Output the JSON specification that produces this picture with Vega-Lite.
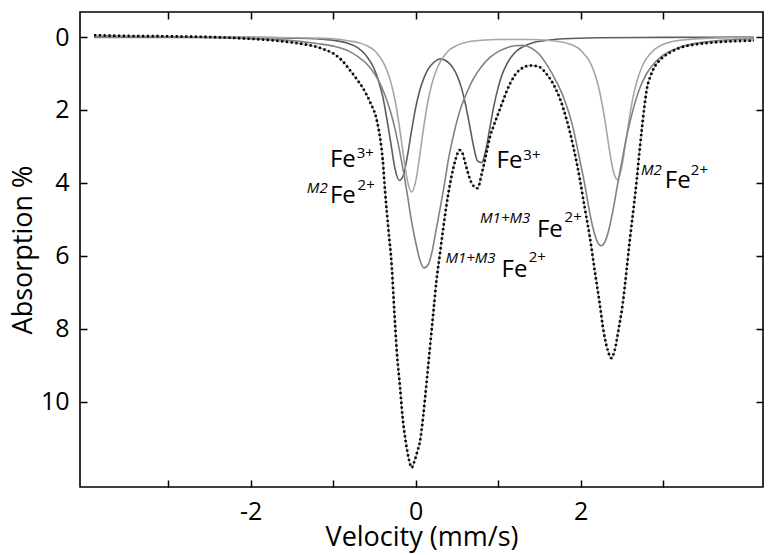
{
"$schema":"https://vega.github.io/schema/vega-lite/v6.json",
"width":683,"height":475,
"autosize":{"type":"none"},
"padding":{"left":80,"top":12,"right":5,"bottom":68},
"config":{"view":{"stroke":"black","strokeWidth":1.6},"font":"Open Sans",
"axis":{"domain":false,"tickColor":"black","tickWidth":1.5,"tickSize":7,"offset":-7,"labelColor":"black","titleColor":"black","grid":false,"labelFont":"Open Sans","titleFont":"Open Sans","labelFontSize":25,"titleFontSize":27,"titleFontWeight":"normal","labelFlush":false}},
"datasets":{
"spec":[{"v":-3.9,"d":-0.05},{"v":-3.5,"d":-0.03},{"v":-3.0,"d":-0.02},{"v":-2.5,"d":0.0},{"v":-2.0,"d":0.05},{"v":-1.7,"d":0.1},{"v":-1.5,"d":0.15},{"v":-1.3,"d":0.22},{"v":-1.2,"d":0.27},{"v":-1.1,"d":0.35},{"v":-1.0,"d":0.45},{"v":-0.9,"d":0.63},{"v":-0.8,"d":0.9},{"v":-0.7,"d":1.2},{"v":-0.64,"d":1.4},{"v":-0.55,"d":1.8},{"v":-0.47,"d":2.3},{"v":-0.43,"d":2.8},{"v":-0.4,"d":3.37},{"v":-0.37,"d":4.27},{"v":-0.33,"d":5.3},{"v":-0.29,"d":6.3},{"v":-0.26,"d":7.5},{"v":-0.23,"d":8.6},{"v":-0.19,"d":9.6},{"v":-0.16,"d":10.4},{"v":-0.12,"d":11.1},{"v":-0.08,"d":11.6},{"v":-0.05,"d":11.8},{"v":-0.02,"d":11.65},{"v":0.02,"d":11.35},{"v":0.05,"d":11.1},{"v":0.09,"d":10.4},{"v":0.13,"d":9.5},{"v":0.16,"d":8.8},{"v":0.19,"d":8.1},{"v":0.22,"d":7.4},{"v":0.25,"d":6.7},{"v":0.29,"d":6.0},{"v":0.33,"d":5.3},{"v":0.37,"d":4.65},{"v":0.41,"d":4.1},{"v":0.45,"d":3.65},{"v":0.49,"d":3.3},{"v":0.53,"d":3.1},{"v":0.56,"d":3.15},{"v":0.6,"d":3.45},{"v":0.65,"d":3.85},{"v":0.7,"d":4.08},{"v":0.75,"d":4.14},{"v":0.8,"d":3.75},{"v":0.85,"d":3.25},{"v":0.9,"d":2.74},{"v":0.95,"d":2.4},{"v":1.0,"d":2.1},{"v":1.05,"d":1.8},{"v":1.1,"d":1.5},{"v":1.15,"d":1.25},{"v":1.2,"d":1.05},{"v":1.25,"d":0.92},{"v":1.3,"d":0.84},{"v":1.4,"d":0.78},{"v":1.5,"d":0.82},{"v":1.58,"d":1.0},{"v":1.66,"d":1.26},{"v":1.75,"d":1.7},{"v":1.83,"d":2.27},{"v":1.91,"d":3.0},{"v":1.99,"d":3.9},{"v":2.05,"d":4.7},{"v":2.11,"d":5.47},{"v":2.17,"d":6.4},{"v":2.23,"d":7.3},{"v":2.28,"d":8.1},{"v":2.33,"d":8.6},{"v":2.37,"d":8.8},{"v":2.41,"d":8.6},{"v":2.46,"d":8.0},{"v":2.51,"d":7.3},{"v":2.56,"d":6.3},{"v":2.6,"d":5.47},{"v":2.64,"d":4.7},{"v":2.68,"d":3.9},{"v":2.71,"d":3.2},{"v":2.74,"d":2.55},{"v":2.77,"d":1.95},{"v":2.8,"d":1.45},{"v":2.85,"d":1.05},{"v":2.9,"d":0.8},{"v":2.96,"d":0.63},{"v":3.05,"d":0.47},{"v":3.2,"d":0.3},{"v":3.4,"d":0.2},{"v":3.6,"d":0.15},{"v":3.8,"d":0.12},{"v":4.1,"d":0.1}],
"comps":[
{"c":"Fe3","v":-3.9,"d":0},{"c":"Fe3","v":-2,"d":0.01},{"c":"Fe3","v":-1.5,"d":0.03},{"c":"Fe3","v":-1.2,"d":0.05},{"c":"Fe3","v":-1.0,"d":0.09},{"c":"Fe3","v":-0.8,"d":0.19},{"c":"Fe3","v":-0.7,"d":0.3},{"c":"Fe3","v":-0.6,"d":0.51},{"c":"Fe3","v":-0.5,"d":0.89},{"c":"Fe3","v":-0.45,"d":1.21},{"c":"Fe3","v":-0.4,"d":1.63},{"c":"Fe3","v":-0.35,"d":2.24},{"c":"Fe3","v":-0.3,"d":2.93},{"c":"Fe3","v":-0.25,"d":3.62},{"c":"Fe3","v":-0.2,"d":3.93},{"c":"Fe3","v":-0.15,"d":3.79},{"c":"Fe3","v":-0.1,"d":3.25},{"c":"Fe3","v":-0.05,"d":2.56},{"c":"Fe3","v":0,"d":1.93},{"c":"Fe3","v":0.05,"d":1.45},{"c":"Fe3","v":0.1,"d":1.12},{"c":"Fe3","v":0.15,"d":0.88},{"c":"Fe3","v":0.2,"d":0.74},{"c":"Fe3","v":0.25,"d":0.64},{"c":"Fe3","v":0.3,"d":0.6},{"c":"Fe3","v":0.35,"d":0.63},{"c":"Fe3","v":0.4,"d":0.71},{"c":"Fe3","v":0.45,"d":0.84},{"c":"Fe3","v":0.5,"d":1.05},{"c":"Fe3","v":0.55,"d":1.36},{"c":"Fe3","v":0.6,"d":1.81},{"c":"Fe3","v":0.65,"d":2.38},{"c":"Fe3","v":0.7,"d":2.98},{"c":"Fe3","v":0.75,"d":3.4},{"c":"Fe3","v":0.8,"d":3.44},{"c":"Fe3","v":0.85,"d":3.09},{"c":"Fe3","v":0.9,"d":2.47},{"c":"Fe3","v":0.95,"d":1.86},{"c":"Fe3","v":1.0,"d":1.38},{"c":"Fe3","v":1.05,"d":1.01},{"c":"Fe3","v":1.1,"d":0.76},{"c":"Fe3","v":1.2,"d":0.43},{"c":"Fe3","v":1.3,"d":0.27},{"c":"Fe3","v":1.4,"d":0.17},{"c":"Fe3","v":1.6,"d":0.09},{"c":"Fe3","v":1.8,"d":0.05},{"c":"Fe3","v":2.2,"d":0.02},{"c":"Fe3","v":3,"d":0.01},{"c":"Fe3","v":4.1,"d":0},
{"c":"M2","v":-3.9,"d":0},{"c":"M2","v":-2,"d":0.01},{"c":"M2","v":-1.5,"d":0.02},{"c":"M2","v":-1.2,"d":0.03},{"c":"M2","v":-1.0,"d":0.05},{"c":"M2","v":-0.8,"d":0.11},{"c":"M2","v":-0.7,"d":0.15},{"c":"M2","v":-0.6,"d":0.23},{"c":"M2","v":-0.5,"d":0.37},{"c":"M2","v":-0.45,"d":0.5},{"c":"M2","v":-0.4,"d":0.67},{"c":"M2","v":-0.35,"d":0.91},{"c":"M2","v":-0.3,"d":1.25},{"c":"M2","v":-0.25,"d":1.74},{"c":"M2","v":-0.2,"d":2.42},{"c":"M2","v":-0.15,"d":3.23},{"c":"M2","v":-0.1,"d":3.95},{"c":"M2","v":-0.05,"d":4.25},{"c":"M2","v":0,"d":3.95},{"c":"M2","v":0.05,"d":3.23},{"c":"M2","v":0.1,"d":2.42},{"c":"M2","v":0.15,"d":1.74},{"c":"M2","v":0.2,"d":1.25},{"c":"M2","v":0.25,"d":0.91},{"c":"M2","v":0.3,"d":0.67},{"c":"M2","v":0.35,"d":0.5},{"c":"M2","v":0.4,"d":0.37},{"c":"M2","v":0.5,"d":0.23},{"c":"M2","v":0.6,"d":0.15},{"c":"M2","v":0.8,"d":0.09},{"c":"M2","v":1.0,"d":0.07},{"c":"M2","v":1.2,"d":0.07},{"c":"M2","v":1.4,"d":0.07},{"c":"M2","v":1.6,"d":0.09},{"c":"M2","v":1.8,"d":0.15},{"c":"M2","v":1.9,"d":0.22},{"c":"M2","v":2.0,"d":0.36},{"c":"M2","v":2.05,"d":0.49},{"c":"M2","v":2.1,"d":0.64},{"c":"M2","v":2.15,"d":0.88},{"c":"M2","v":2.2,"d":1.22},{"c":"M2","v":2.25,"d":1.72},{"c":"M2","v":2.3,"d":2.37},{"c":"M2","v":2.35,"d":3.13},{"c":"M2","v":2.4,"d":3.72},{"c":"M2","v":2.45,"d":3.91},{"c":"M2","v":2.5,"d":3.53},{"c":"M2","v":2.55,"d":2.82},{"c":"M2","v":2.6,"d":2.08},{"c":"M2","v":2.65,"d":1.49},{"c":"M2","v":2.7,"d":1.08},{"c":"M2","v":2.75,"d":0.78},{"c":"M2","v":2.8,"d":0.58},{"c":"M2","v":2.9,"d":0.33},{"c":"M2","v":3.0,"d":0.2},{"c":"M2","v":3.2,"d":0.09},{"c":"M2","v":3.5,"d":0.04},{"c":"M2","v":4.1,"d":0.01},
{"c":"M13","v":-3.9,"d":0.01},{"c":"M13","v":-3,"d":0.01},{"c":"M13","v":-2.5,"d":0.02},{"c":"M13","v":-2,"d":0.045},{"c":"M13","v":-1.5,"d":0.1},{"c":"M13","v":-1.2,"d":0.18},{"c":"M13","v":-1.0,"d":0.25},{"c":"M13","v":-0.8,"d":0.4},{"c":"M13","v":-0.7,"d":0.54},{"c":"M13","v":-0.6,"d":0.72},{"c":"M13","v":-0.5,"d":1.01},{"c":"M13","v":-0.45,"d":1.2},{"c":"M13","v":-0.4,"d":1.44},{"c":"M13","v":-0.35,"d":1.74},{"c":"M13","v":-0.3,"d":2.09},{"c":"M13","v":-0.25,"d":2.53},{"c":"M13","v":-0.2,"d":3.07},{"c":"M13","v":-0.15,"d":3.67},{"c":"M13","v":-0.1,"d":4.34},{"c":"M13","v":-0.05,"d":5.06},{"c":"M13","v":0,"d":5.63},{"c":"M13","v":0.05,"d":6.11},{"c":"M13","v":0.1,"d":6.33},{"c":"M13","v":0.15,"d":6.24},{"c":"M13","v":0.2,"d":5.86},{"c":"M13","v":0.25,"d":5.25},{"c":"M13","v":0.3,"d":4.65},{"c":"M13","v":0.35,"d":4.0},{"c":"M13","v":0.4,"d":3.31},{"c":"M13","v":0.45,"d":2.77},{"c":"M13","v":0.5,"d":2.3},{"c":"M13","v":0.55,"d":1.92},{"c":"M13","v":0.6,"d":1.63},{"c":"M13","v":0.7,"d":1.14},{"c":"M13","v":0.8,"d":0.8},{"c":"M13","v":0.9,"d":0.56},{"c":"M13","v":1.0,"d":0.4},{"c":"M13","v":1.1,"d":0.3},{"c":"M13","v":1.2,"d":0.24},{"c":"M13","v":1.3,"d":0.23},{"c":"M13","v":1.4,"d":0.3},{"c":"M13","v":1.5,"d":0.48},{"c":"M13","v":1.6,"d":0.8},{"c":"M13","v":1.7,"d":1.2},{"c":"M13","v":1.8,"d":1.7},{"c":"M13","v":1.9,"d":2.42},{"c":"M13","v":2.0,"d":3.49},{"c":"M13","v":2.05,"d":4.05},{"c":"M13","v":2.1,"d":4.7},{"c":"M13","v":2.15,"d":5.24},{"c":"M13","v":2.2,"d":5.6},{"c":"M13","v":2.25,"d":5.72},{"c":"M13","v":2.3,"d":5.58},{"c":"M13","v":2.35,"d":5.2},{"c":"M13","v":2.4,"d":4.65},{"c":"M13","v":2.45,"d":4.0},{"c":"M13","v":2.5,"d":3.4},{"c":"M13","v":2.55,"d":2.8},{"c":"M13","v":2.6,"d":2.3},{"c":"M13","v":2.7,"d":1.5},{"c":"M13","v":2.8,"d":1.0},{"c":"M13","v":2.9,"d":0.7},{"c":"M13","v":3.0,"d":0.5},{"c":"M13","v":3.2,"d":0.28},{"c":"M13","v":3.5,"d":0.14},{"c":"M13","v":4.1,"d":0.05}],
"main":[{"t":"Fe","v":-1.04,"d":3.56},{"t":"Fe","v":-1.04,"d":4.55},{"t":"Fe","v":0.98,"d":3.59},{"t":"Fe","v":3.02,"d":4.14},{"t":"Fe","v":1.04,"d":6.58},{"t":"Fe","v":1.47,"d":5.48}],
"sup":[{"t":"3+","v":-0.715,"d":3.32},{"t":"2+","v":-0.705,"d":4.19},{"t":"3+","v":1.305,"d":3.37},{"t":"2+","v":3.335,"d":3.78},{"t":"2+","v":1.37,"d":6.16},{"t":"2+","v":1.805,"d":5.07}],
"pre":[{"t":"M2","v":-1.32,"d":4.27},{"t":"M2","v":2.73,"d":3.78},{"t":"M1+M3","v":0.36,"d":6.19},{"t":"M1+M3","v":0.78,"d":5.1}]
},
"layer":[
{"data":{"name":"comps"},
"mark":{"type":"line","strokeWidth":1.6,"interpolate":"monotone"},
"encoding":{
"x":{"field":"v","type":"quantitative","scale":{"domain":[-4.07,4.21],"nice":false,"zero":false},
"axis":{"orient":"bottom","values":[-3,-2,-1,0,1,2,3],"labelExpr":"datum.value == -2 ? '-2' : datum.value == 0 ? '0' : datum.value == 2 ? '2' : ''","labelPadding":12,"title":"Velocity (mm/s)","titlePadding":0}},
"y":{"field":"d","type":"quantitative","scale":{"domain":[-0.685,12.33],"reverse":true,"nice":false,"zero":false},
"axis":{"orient":"left","values":[0,2,4,6,8,10],"labelPadding":11,"title":"Absorption %","titlePadding":3}},
"color":{"field":"c","type":"nominal","scale":{"domain":["Fe3","M2","M13"],"range":["#5c5c5c","#a6a6a6","#828282"]},"legend":null},
"order":{"field":"v","type":"quantitative"}}},
{"data":{"name":"spec"},
"mark":{"type":"line","strokeWidth":0.9,"color":"#7a7a7a","interpolate":"monotone"},
"encoding":{
"x":{"field":"v","type":"quantitative","scale":{"domain":[-4.07,4.21],"nice":false,"zero":false},
"axis":{"orient":"top","values":[-3,-2,-1,0,1,2,3],"labels":false,"title":null}},
"y":{"field":"d","type":"quantitative","scale":{"domain":[-0.685,12.33],"reverse":true,"nice":false,"zero":false},
"axis":{"orient":"right","values":[0,2,4,6,8,10],"labels":false,"title":null}}}},
{"data":{"name":"spec"},
"mark":{"type":"line","strokeWidth":2.6,"color":"black","strokeDash":[2.2,2.6],"interpolate":"monotone"},
"encoding":{
"x":{"field":"v","type":"quantitative","scale":{"domain":[-4.07,4.21],"nice":false,"zero":false},"axis":null},
"y":{"field":"d","type":"quantitative","scale":{"domain":[-0.685,12.33],"reverse":true,"nice":false,"zero":false},"axis":null}}},
{"data":{"name":"main"},
"mark":{"type":"text","align":"left","baseline":"alphabetic","fontSize":24,"font":"Open Sans","color":"black"},
"encoding":{
"x":{"field":"v","type":"quantitative","scale":{"domain":[-4.07,4.21],"nice":false,"zero":false},"axis":null},
"y":{"field":"d","type":"quantitative","scale":{"domain":[-0.685,12.33],"reverse":true,"nice":false,"zero":false},"axis":null},
"text":{"field":"t"}}},
{"data":{"name":"sup"},
"mark":{"type":"text","align":"left","baseline":"alphabetic","fontSize":15,"font":"Open Sans","color":"black"},
"encoding":{
"x":{"field":"v","type":"quantitative","scale":{"domain":[-4.07,4.21],"nice":false,"zero":false},"axis":null},
"y":{"field":"d","type":"quantitative","scale":{"domain":[-0.685,12.33],"reverse":true,"nice":false,"zero":false},"axis":null},
"text":{"field":"t"}}},
{"data":{"name":"pre"},
"mark":{"type":"text","align":"left","baseline":"alphabetic","fontSize":15,"fontStyle":"italic","font":"Open Sans","color":"black"},
"encoding":{
"x":{"field":"v","type":"quantitative","scale":{"domain":[-4.07,4.21],"nice":false,"zero":false},"axis":null},
"y":{"field":"d","type":"quantitative","scale":{"domain":[-0.685,12.33],"reverse":true,"nice":false,"zero":false},"axis":null},
"text":{"field":"t"}}}
],
"resolve":{"axis":{"x":"independent","y":"independent"}}
}
